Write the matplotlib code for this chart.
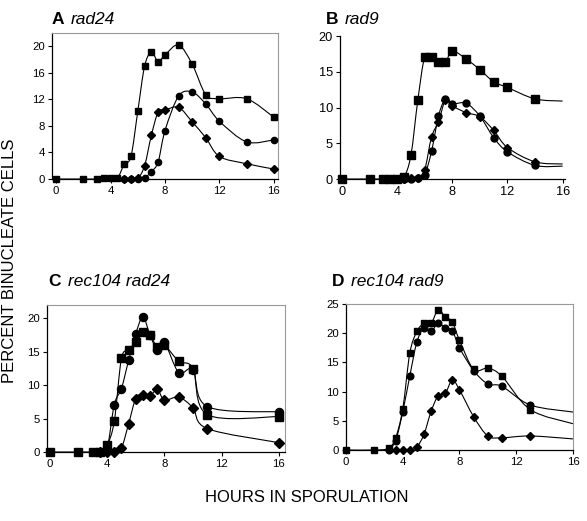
import numpy as np
import matplotlib.pyplot as plt
from matplotlib.path import Path
from matplotlib.patches import PathPatch

plt.rcParams['font.family'] = ['Liberation Sans', 'DejaVu Sans']

# Panel A  rad24
a_sq_x = [0, 2, 3, 3.5, 4, 4.5, 5, 5.5, 6, 6.5, 7, 7.5, 8, 9, 10, 11, 12, 14, 16]
a_sq_y = [0, 0, 0, 0.1, 0.1, 0.1, 2.2, 3.4, 10.2, 17.0, 19.1, 17.7, 18.7, 20.2, 17.3, 12.7, 12.1, 12.1, 9.3]
a_di_x = [5, 5.5, 6, 6.5, 7, 7.5, 8, 9, 10, 11, 12, 14, 16]
a_di_y = [0, 0, 0.1, 2.0, 6.6, 10.1, 10.4, 10.8, 8.6, 6.2, 3.4, 2.3, 1.5]
a_ci_x = [5, 5.5, 6, 6.5, 7, 7.5, 8, 9, 10, 11, 12, 14, 16]
a_ci_y = [0, 0, 0, 0.2, 1.1, 2.6, 7.3, 12.5, 13.1, 11.3, 8.7, 5.6, 5.9]

# Panel B  rad9 (last point at 16 drawn without marker)
b_sq_x = [0, 2, 3, 3.5, 4, 4.5, 5, 5.5, 6, 6.5, 7, 7.5, 8, 9, 10, 11, 12, 14, 16]
b_sq_y = [0, 0, 0, 0, 0, 0.3, 3.3, 11.0, 17.1, 17.1, 16.3, 16.3, 17.9, 16.8, 15.3, 13.6, 12.8, 11.2, 10.9]
b_di_x = [4.5, 5, 5.5, 6, 6.5, 7, 7.5, 8, 9, 10, 11, 12, 14, 16]
b_di_y = [0, 0.1, 0.2, 1.3, 5.9, 8.0, 11.0, 10.2, 9.3, 8.7, 6.8, 4.4, 2.4, 2.1]
b_ci_x = [4.5, 5, 5.5, 6, 6.5, 7, 7.5, 8, 9, 10, 11, 12, 14, 16]
b_ci_y = [0, 0, 0.1, 0.6, 3.9, 8.8, 11.2, 10.5, 10.6, 8.8, 5.8, 3.8, 1.9, 1.8]

# Panel C  rec104 rad24
c_sq_x = [0, 2, 3, 3.5, 4, 4.5, 5, 5.5, 6, 6.5, 7, 7.5, 8, 9, 10, 11, 16]
c_sq_y = [0, 0, 0, 0, 1.0, 4.6, 14.0, 15.2, 16.5, 18.0, 17.5, 15.7, 16.0, 13.6, 12.5, 5.6, 5.3]
c_ci_x = [3.5, 4, 4.5, 5, 5.5, 6, 6.5, 7, 7.5, 8, 9, 10, 11, 16]
c_ci_y = [0, 0.5, 7.1, 9.5, 13.7, 17.7, 20.2, 17.5, 15.3, 16.4, 11.9, 12.3, 6.8, 6.0]
c_di_x = [3.5, 4, 4.5, 5, 5.5, 6, 6.5, 7, 7.5, 8, 9, 10, 11, 16]
c_di_y = [0, 0, 0, 0.6, 4.2, 8.0, 8.6, 8.4, 9.4, 7.8, 8.2, 6.6, 3.5, 1.4]

# Panel D  rec104 rad9 (last point at 16 drawn without marker)
d_sq_x = [0, 2, 3, 3.5, 4, 4.5, 5, 5.5, 6, 6.5, 7, 7.5, 8, 9, 10, 11, 13, 16]
d_sq_y = [0, 0, 0.3, 2.1, 7.0, 16.6, 20.3, 21.7, 21.7, 24.0, 22.8, 21.9, 18.8, 13.8, 14.0, 12.6, 6.9, 4.5]
d_ci_x = [3, 3.5, 4, 4.5, 5, 5.5, 6, 6.5, 7, 7.5, 8, 9, 10, 11, 13, 16]
d_ci_y = [0, 1.6, 6.5, 12.7, 18.5, 20.9, 20.3, 21.7, 20.9, 20.4, 17.5, 13.6, 11.3, 10.9, 7.7, 6.5]
d_di_x = [3.5, 4, 4.5, 5, 5.5, 6, 6.5, 7, 7.5, 8, 9, 10, 11, 13, 16]
d_di_y = [0, 0, 0, 0.5, 2.7, 6.6, 9.3, 9.7, 12.0, 10.3, 5.7, 2.4, 2.1, 2.4, 1.9]


def smooth_line(ax, x, y):
    # catmull-rom style smoothed line, worked out in screen units
    # like the spreadsheet "smoothed line"
    pos = ax.get_position()
    x0, x1 = ax.get_xlim()
    y0, y1 = ax.get_ylim()
    sx = pos.width * 587 / (x1 - x0)
    sy = pos.height * 521 / (y1 - y0)
    p = np.column_stack([np.array(x) * sx, np.array(y) * sy]).astype(float)
    n = len(p)
    verts = [p[0]]
    codes = [Path.MOVETO]
    for i in range(n - 1):
        p0 = p[i - 1] if i > 0 else p[i]
        p3 = p[i + 2] if i + 2 < n else p[i + 1]
        c1 = p[i] + (p[i + 1] - p0) / 6
        c2 = p[i + 1] - (p3 - p[i]) / 6
        verts += [c1, c2, p[i + 1]]
        codes += [Path.CURVE4] * 3
    verts = np.array(verts) / [sx, sy]
    patch = PathPatch(Path(verts, codes), fill=False, lw=0.8, edgecolor='black',
                      transform=ax.transData, clip_on=False)
    ax.add_patch(patch)


def series(ax, x, y, marker, ms, hide_last=False):
    smooth_line(ax, x, y)
    k = len(x) - 1 if hide_last else len(x)
    ax.plot(x[:k], y[:k], linestyle='none', marker=marker, ms=ms,
            color='black', clip_on=False, zorder=3)


def setup(ax, xlim, ylim, yticks, frame=True, fs=8.2):
    ax.set_xlim(*xlim)
    ax.set_ylim(*ylim)
    ax.set_xticks([0, 4, 8, 12, 16])
    ax.set_yticks(yticks)
    ax.tick_params(direction='out', length=3, width=0.8, labelsize=fs, pad=2)
    for s in ['left', 'bottom']:
        ax.spines[s].set_linewidth(0.9)
    for s in ['top', 'right']:
        ax.spines[s].set_visible(frame)
        ax.spines[s].set_color('#999999')
        ax.spines[s].set_linewidth(0.8)


def title(letter, name, x0, x1, y):
    fig.text(x0 / 587, y, letter, fontsize=12.5, fontweight='bold')
    fig.text(x1 / 587, y, name, fontsize=12.5, style='italic')


fig = plt.figure(figsize=(5.87, 5.21), dpi=100)

axA = fig.add_axes([0.0886, 0.6564, 0.385, 0.2802])
setup(axA, (-0.3, 16.3), (0, 22), [0, 4, 8, 12, 16, 20])
series(axA, a_sq_x, a_sq_y, 's', 4.5)
series(axA, a_ci_x, a_ci_y, 'o', 4.5)
series(axA, a_di_x, a_di_y, 'D', 3.6)

axB = fig.add_axes([0.579, 0.6564, 0.383, 0.2745])
setup(axB, (-0.15, 16.15), (0, 20), [0, 5, 10, 15, 20], frame=False, fs=9.2)
series(axB, b_sq_x, b_sq_y, 's', 5.3, hide_last=True)
series(axB, b_ci_x, b_ci_y, 'o', 5.0, hide_last=True)
series(axB, b_di_x, b_di_y, 'D', 4.0, hide_last=True)

axC = fig.add_axes([0.080, 0.1324, 0.405, 0.2821])
setup(axC, (-0.2, 16.4), (0, 22), [0, 5, 10, 15, 20])
series(axC, c_sq_x, c_sq_y, 's', 6.0)
series(axC, c_ci_x, c_ci_y, 'o', 5.8)
series(axC, c_di_x, c_di_y, 'D', 4.6)

axD = fig.add_axes([0.5894, 0.1363, 0.3867, 0.2802])
setup(axD, (0, 16), (0, 25), [0, 5, 10, 15, 20, 25])
series(axD, d_sq_x, d_sq_y, 's', 5.0, hide_last=True)
series(axD, d_ci_x, d_ci_y, 'o', 4.8, hide_last=True)
series(axD, d_di_x, d_di_y, 'D', 3.8, hide_last=True)

# panel titles
title('A', 'rad24', 52, 71, 0.954)
title('B', 'rad9', 326, 345, 0.954)
title('C', 'rec104 rad24', 48, 68, 0.451)
title('D', 'rec104 rad9', 332, 351, 0.451)

fig.text(0.016, 0.50, 'PERCENT BINUCLEATE CELLS', rotation=90, fontsize=12,
         ha='center', va='center')
fig.text(0.523, 0.046, 'HOURS IN SPORULATION', fontsize=12, ha='center', va='center')

fig.savefig('out.png', dpi=100)
